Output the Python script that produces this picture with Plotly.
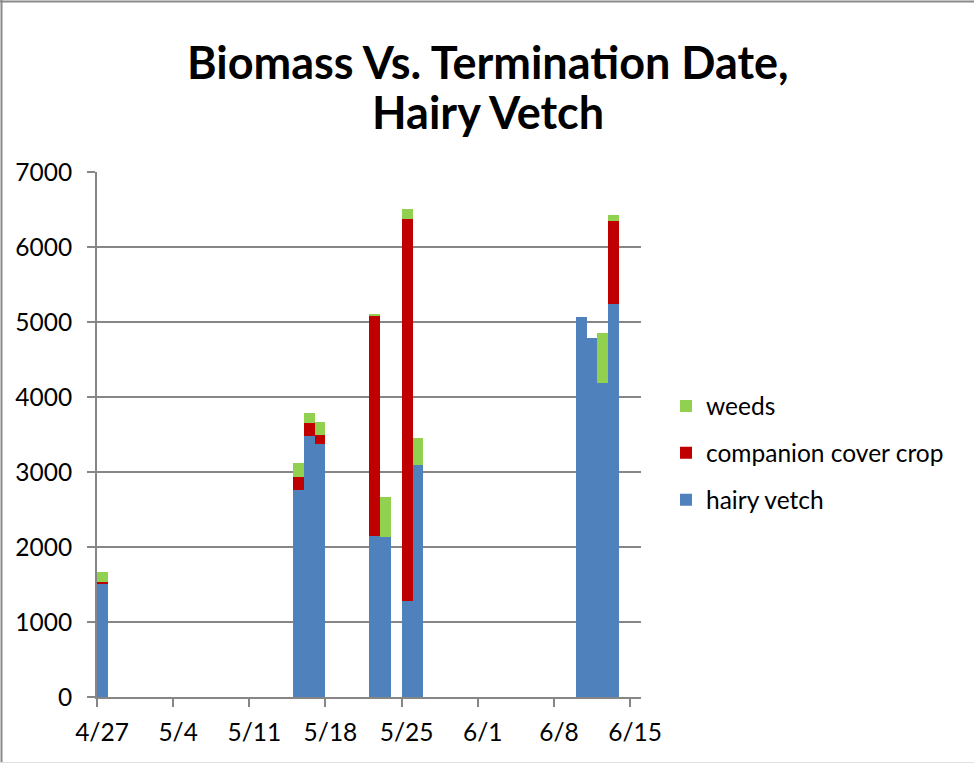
import plotly.graph_objects as go

# ---- data ----
dates = ["2013-04-27", "2013-05-15", "2013-05-16", "2013-05-17", "2013-05-22", "2013-05-23",
         "2013-05-25", "2013-05-26", "2013-06-10", "2013-06-11", "2013-06-12", "2013-06-13"]
hairy_vetch = [1515, 2760, 3480, 3373, 2147, 2138, 1280, 3093, 5062, 4787, 4182, 5240]
companion_cover_crop = [25, 169, 169, 125, 2937, 0, 5089, 0, 0, 0, 0, 1102]
weeds = [125, 187, 133, 173, 23, 533, 133, 360, 0, 0, 667, 89]

y_ticks = [0, 1000, 2000, 3000, 4000, 5000, 6000, 7000]
title_lines = ["Biomass Vs. Termination Date,", "Hairy Vetch"]

DAY_MS = 86400000
FONT = "Lato"
GRID = "#868686"
FS = 24.5

series = [
    ("hairy vetch", hairy_vetch, "#4F81BD", 3),
    ("companion cover crop", companion_cover_crop, "#C00000", 2),
    ("weeds", weeds, "#92D050", 1),
]

fig = go.Figure()
for name, vals, color, rank in series:
    fig.add_trace(go.Bar(
        x=dates, y=vals, name=name, legendgroup=name, legendrank=rank,
        width=[DAY_MS] * len(dates), offset=0,
        marker=dict(color=color, line=dict(width=0)),
    ))

W, H = 974, 763
L, R, T, B = 97, 333, 172, 66
pw, ph = W - L - R, H - T - B


def px_x(p):
    return (p - L) / pw


def px_y(p):
    return (H - B - p) / ph


fig.update_layout(
    width=W, height=H,
    barmode="stack", bargap=0,
    plot_bgcolor="white", paper_bgcolor="white",
    margin=dict(l=L, r=R, t=T, b=B, autoexpand=False),
    font=dict(family=FONT, size=FS, color="black"),
    legend=dict(
        x=px_x(666), xanchor="left",
        y=px_y(453), yanchor="middle",
        traceorder="grouped", tracegroupgap=12,
        font=dict(family=FONT, size=FS, color="black"),
        bgcolor="rgba(0,0,0,0)",
        itemwidth=30,
    ),
    xaxis=dict(
        type="date",
        range=["2013-04-27", "2013-06-16"],
        tick0="2013-04-27", dtick=7 * DAY_MS,
        tickformat="%-m/%-d",
        ticks="outside", ticklen=8, tickwidth=2, tickcolor=GRID,
        ticklabelshift=5, ticklabelstandoff=5,
        showline=True, linecolor=GRID, linewidth=2,
        showgrid=False, zeroline=False,
        tickfont=dict(family=FONT, size=FS, color="black"),
    ),
    yaxis=dict(
        range=[0, 7000], tickvals=y_ticks,
        ticks="outside", ticklen=8, tickwidth=2, tickcolor=GRID,
        ticklabelstandoff=10,
        showline=True, linecolor=GRID, linewidth=2,
        showgrid=True, gridcolor=GRID, gridwidth=1.5,
        zeroline=False,
        tickfont=dict(family=FONT, size=FS, color="black"),
    ),
)

# title, two lines placed individually
for txt, yc in zip(title_lines, [62, 112]):
    fig.add_annotation(
        text="<b>" + txt + "</b>", xref="paper", yref="paper",
        x=px_x(488), y=px_y(yc), xanchor="center", yanchor="middle",
        showarrow=False, font=dict(family=FONT, size=45, color="black"),
    )

# chart-area border (top and left grey, faint bottom)
fig.add_shape(type="line", xref="paper", yref="paper",
              x0=px_x(0), x1=px_x(W), y0=px_y(1.5), y1=px_y(1.5),
              line=dict(color="#8a8a8a", width=2))
fig.add_shape(type="line", xref="paper", yref="paper",
              x0=px_x(1.5), x1=px_x(1.5), y0=px_y(0), y1=px_y(H),
              line=dict(color="#8a8a8a", width=2))
fig.add_shape(type="line", xref="paper", yref="paper",
              x0=px_x(0), x1=px_x(W), y0=px_y(762.5), y1=px_y(762.5),
              line=dict(color="#e0e0e0", width=1))

fig.write_html(
    "out.html",
    config={"displayModeBar": False},
    post_script="document.body.style.margin='0';document.body.style.overflow='hidden';",
)
